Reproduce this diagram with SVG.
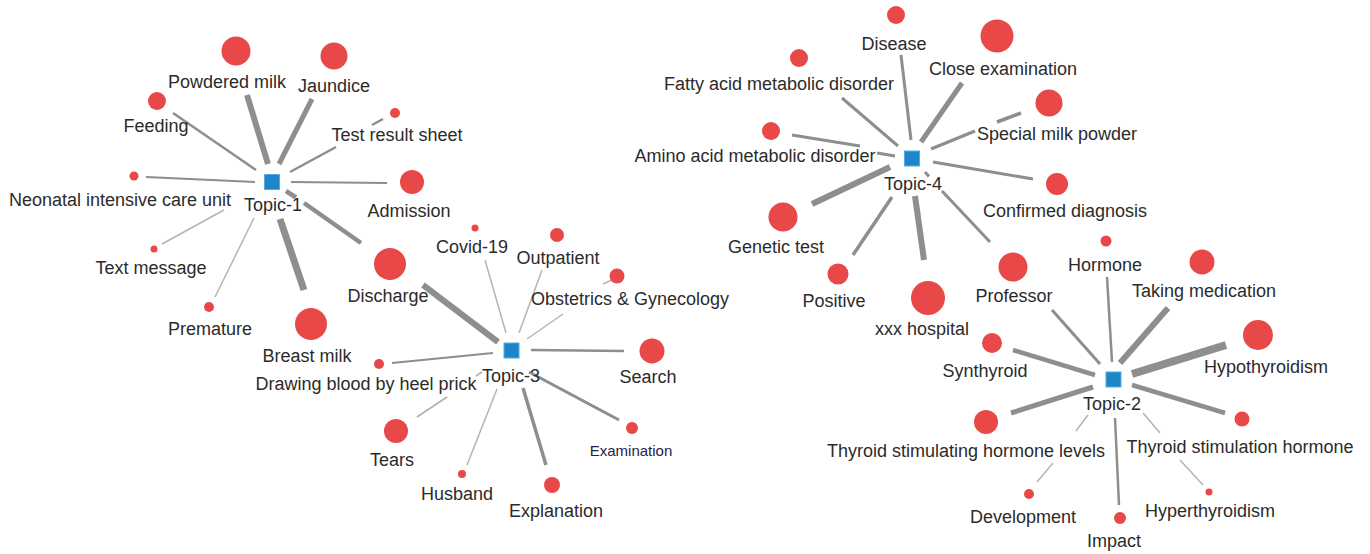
<svg xmlns="http://www.w3.org/2000/svg" width="1370" height="554" viewBox="0 0 1370 554">
<style>
  .bg{fill:#ffffff}
  .e{fill:none;stroke:#8e8e8e;stroke-linecap:butt}
  .lt{stroke:#b4b4b4}
  .w15{stroke-width:1.5}
  .w2{stroke-width:2}
  .w25{stroke-width:2.5}
  .w3{stroke-width:3}
  .w35{stroke-width:3.5}
  .w4{stroke-width:4.5}
  .w5{stroke-width:5}
  .w6{stroke-width:6}
  .w7{stroke-width:7}
  .w8{stroke-width:8}
  .n{fill:#e84848}
  .t{fill:#1b87c9;stroke:#5aaae0;stroke-width:1}
  text{font-family:"Liberation Sans",Arial,sans-serif;font-size:18px;fill:#2b2b2b;text-anchor:middle}
  text.small{font-size:15px;fill:#23234a}
</style>
<rect class="bg" x="0" y="0" width="1370" height="554"/>

<g id="connectors">
  <!-- Topic-1 -->
  <path class="e w6" d="M268,164 L247,95"/>
  <path class="e w5" d="M279,164 L312,99"/>
  <path class="e w25" d="M256,170 L173,113"/>
  <path class="e w25" d="M290,172 L336,147 M372,125 L383,119"/>
  <path class="e w2" d="M146,177 L255,182"/>
  <path class="e w2" d="M291,182 L387,183"/>
  <path class="e lt w15" d="M162,244 L224,210"/>
  <path class="e lt w15" d="M215,297 L254,218"/>
  <path class="e w7" d="M280,219 L304,290"/>
  <path class="e w4" d="M286,191 L296,197.5 M304,203 L361,243"/>
  <!-- Topic-3 -->
  <path class="e w6" d="M498,342 L423,285"/>
  <path class="e lt w15" d="M485,260 L506,333"/>
  <path class="e lt w15" d="M542,270 L519,333"/>
  <path class="e lt w15" d="M527,339 L563,314 M603,284 L612,280"/>
  <path class="e w25" d="M531,350 L624,351"/>
  <path class="e w2" d="M392,363 L493,353"/>
  <path class="e lt w2" d="M417,417 L447,397 M476,376 L482,372"/>
  <path class="e lt w15" d="M467,465 L497,389"/>
  <path class="e w35" d="M546,465 L523,388"/>
  <path class="e w3" d="M619,420 L529,372"/>
  <!-- Topic-4 -->
  <path class="e w3" d="M901,55 L911,140"/>
  <path class="e w5" d="M962,83 L921,142"/>
  <path class="e w3" d="M842,98 L898,146"/>
  <path class="e w35" d="M931,149 L975,131 M997,122 L1021,113"/>
  <path class="e w3" d="M792,135 L860,146 M877,153 L895,156"/>
  <path class="e w3" d="M933,162 L1033,179"/>
  <path class="e w6" d="M812,204 L890,167"/>
  <path class="e w35" d="M853,255 L892,197"/>
  <path class="e w6" d="M924,260 L915,196"/>
  <path class="e w3" d="M925,172 L929,176.5 M942,191 L990,242"/>
  <!-- Topic-2 -->
  <path class="e w3" d="M1052,310 L1100,364"/>
  <path class="e w25" d="M1107,277 L1112,362"/>
  <path class="e w6" d="M1168,308 L1120,363"/>
  <path class="e w8" d="M1226,345 L1132,374"/>
  <path class="e w4" d="M1132,385 L1225,413"/>
  <path class="e lt w15" d="M1143,413 L1160,433 M1180,460 L1203,485"/>
  <path class="e w25" d="M1115,418 L1119,505"/>
  <path class="e lt w15" d="M1088,415 L1076,431 M1053,463 L1037,482"/>
  <path class="e w4" d="M1013,350 L1095,375"/>
  <path class="e w5" d="M1011,413 L1093,387"/>
</g>

<!-- Topic-1 cluster -->
<g id="topic-1"><rect class="t" x="264.5" y="174.5" width="15" height="15"/><text x="273" y="211">Topic-1</text></g>
<g id="powdered-milk"><circle class="n" cx="236" cy="51" r="14.5"/><text x="227" y="88">Powdered milk</text></g>
<g id="jaundice"><circle class="n" cx="334" cy="56" r="13.5"/><text x="334" y="92">Jaundice</text></g>
<g id="feeding"><circle class="n" cx="157" cy="101" r="9"/><text x="156" y="132">Feeding</text></g>
<g id="test-result-sheet"><circle class="n" cx="395" cy="113" r="5"/><text x="397" y="141">Test result sheet</text></g>
<g id="nicu"><circle class="n" cx="134" cy="176" r="4.5"/><text x="120" y="206">Neonatal intensive care unit</text></g>
<g id="admission"><circle class="n" cx="412" cy="182" r="12"/><text x="409" y="217">Admission</text></g>
<g id="text-message"><circle class="n" cx="154" cy="249" r="3.5"/><text x="151" y="274">Text message</text></g>
<g id="premature"><circle class="n" cx="209" cy="307" r="5"/><text x="210" y="335">Premature</text></g>
<g id="breast-milk"><circle class="n" cx="311" cy="324" r="16"/><text x="307" y="362">Breast milk</text></g>
<g id="discharge"><circle class="n" cx="390" cy="264" r="16"/><text x="388" y="302">Discharge</text></g>

<!-- Topic-3 cluster -->
<g id="topic-3"><rect class="t" x="504" y="343" width="15" height="15"/><text x="511" y="382">Topic-3</text></g>
<g id="covid-19"><circle class="n" cx="475" cy="228" r="3.5"/><text x="472" y="253">Covid-19</text></g>
<g id="outpatient"><circle class="n" cx="557" cy="235" r="7"/><text x="558" y="264">Outpatient</text></g>
<g id="obgyn"><circle class="n" cx="617" cy="276" r="7.5"/><text x="630" y="305">Obstetrics &amp; Gynecology</text></g>
<g id="search"><circle class="n" cx="652" cy="351" r="12.5"/><text x="648" y="383">Search</text></g>
<g id="heel-prick"><circle class="n" cx="379" cy="364" r="5"/><text x="366" y="390">Drawing blood by heel prick</text></g>
<g id="tears"><circle class="n" cx="396" cy="431" r="12"/><text x="392" y="466">Tears</text></g>
<g id="husband"><circle class="n" cx="462" cy="474" r="4"/><text x="457" y="500">Husband</text></g>
<g id="explanation"><circle class="n" cx="552" cy="485" r="8"/><text x="556" y="517">Explanation</text></g>
<g id="examination"><circle class="n" cx="632" cy="428" r="6"/><text class="small" x="631" y="456">Examination</text></g>

<!-- Topic-4 cluster -->
<g id="topic-4"><rect class="t" x="904.5" y="151" width="15" height="15"/><text x="913" y="190">Topic-4</text></g>
<g id="disease"><circle class="n" cx="896" cy="15" r="9"/><text x="894" y="50">Disease</text></g>
<g id="close-examination"><circle class="n" cx="997" cy="36" r="16.5"/><text x="1003" y="75">Close examination</text></g>
<g id="fatty-acid"><circle class="n" cx="799" cy="58" r="9"/><text x="779" y="90">Fatty acid metabolic disorder</text></g>
<g id="special-milk"><circle class="n" cx="1049" cy="103" r="13.5"/><text x="1057" y="140">Special milk powder</text></g>
<g id="amino-acid"><circle class="n" cx="771" cy="131" r="9"/><text x="755" y="162">Amino acid metabolic disorder</text></g>
<g id="confirmed-diagnosis"><circle class="n" cx="1057" cy="184" r="11"/><text x="1065" y="217">Confirmed diagnosis</text></g>
<g id="genetic-test"><circle class="n" cx="783" cy="217" r="14.5"/><text x="776" y="253">Genetic test</text></g>
<g id="positive"><circle class="n" cx="838" cy="274" r="10.5"/><text x="834" y="307">Positive</text></g>
<g id="xxx-hospital"><circle class="n" cx="928" cy="298" r="17"/><text x="922" y="335">xxx hospital</text></g>
<g id="professor"><circle class="n" cx="1013" cy="267" r="14.5"/><text x="1014" y="302">Professor</text></g>

<!-- Topic-2 cluster -->
<g id="topic-2"><rect class="t" x="1106" y="372" width="15" height="15"/><text x="1112" y="410">Topic-2</text></g>
<g id="hormone"><circle class="n" cx="1106" cy="241" r="5.5"/><text x="1105" y="271">Hormone</text></g>
<g id="taking-medication"><circle class="n" cx="1202" cy="262" r="12.5"/><text x="1204" y="297">Taking medication</text></g>
<g id="hypothyroidism"><circle class="n" cx="1258" cy="335" r="15"/><text x="1266" y="373">Hypothyroidism</text></g>
<g id="tsh"><circle class="n" cx="1242" cy="419" r="7.5"/><text x="1240" y="453">Thyroid stimulation hormone</text></g>
<g id="hyperthyroidism"><circle class="n" cx="1209" cy="492" r="3.5"/><text x="1210" y="517">Hyperthyroidism</text></g>
<g id="impact"><circle class="n" cx="1120" cy="518" r="6"/><text x="1114" y="547">Impact</text></g>
<g id="development"><circle class="n" cx="1029" cy="494" r="5"/><text x="1023" y="523">Development</text></g>
<g id="tsh-levels"><circle class="n" cx="986" cy="422" r="12"/><text x="966" y="457">Thyroid stimulating hormone levels</text></g>
<g id="synthyroid"><circle class="n" cx="992" cy="343" r="10"/><text x="985" y="377">Synthyroid</text></g>
</svg>
